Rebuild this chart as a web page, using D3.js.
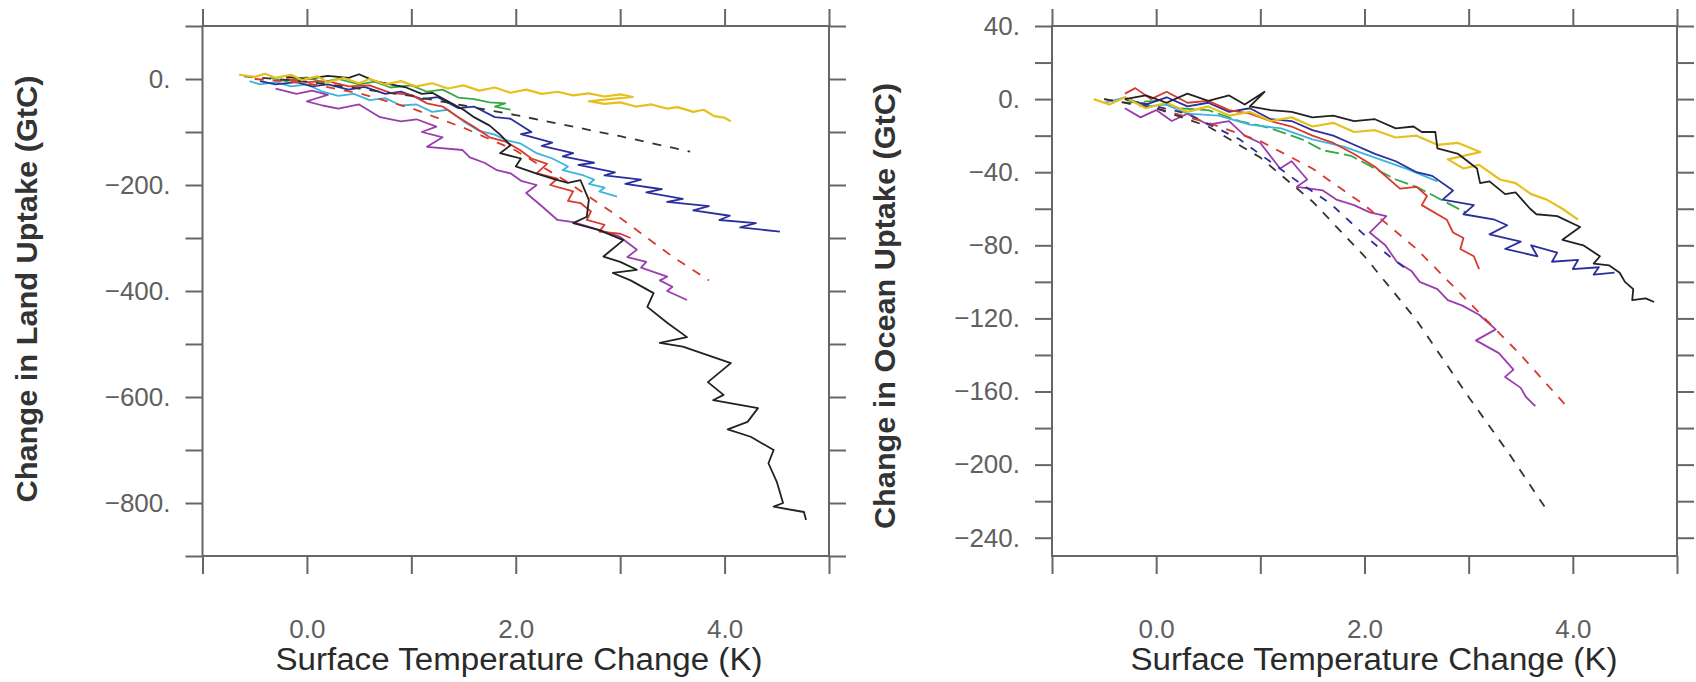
<!DOCTYPE html>
<html><head><meta charset="utf-8">
<script src="https://cdn.jsdelivr.net/npm/d3@7"></script>
<style>body{margin:0;background:#fff}svg{display:block}</style>
</head><body>
<svg id="c" width="1696" height="682"></svg>
<script>
// ---------- data ----------
const xTicks = [-1, 0, 1, 2, 3, 4, 5];
const xLabels = [0, 2, 4];
const landTicks = [100, 0, -100, -200, -300, -400, -500, -600, -700, -800, -900];
const landLabels = [0, -200, -400, -600, -800];
const oceanTicks = [40, 20, 0, -20, -40, -60, -80, -100, -120, -140, -160, -180, -200, -220, -240];
const oceanLabels = [40, 0, -40, -80, -120, -160, -200, -240];

const landYellow = [[-0.65,8],[-0.5,4],[-0.4,10],[-0.3,2],[-0.15,8],[-0.05,-2],[0.1,5],[0.2,-6],[0.35,2],[0.5,-8],[0.6,0],[0.75,-10],[0.9,-4],[1.05,-14],[1.2,-8],[1.35,-18],[1.5,-12],[1.65,-22],[1.8,-16],[1.95,-26],[2.1,-20],[2.25,-28],[2.4,-24],[2.55,-31],[2.7,-27],[2.85,-33],[3.0,-29],[3.12,-34],[2.9,-38],[2.7,-42],[2.85,-47],[3.0,-44],[3.15,-52],[3.3,-48],[3.45,-56],[3.55,-53],[3.7,-62],[3.8,-58],[3.9,-70],[4.0,-73],[4.06,-80]];
const landGreen = [[-0.35,2],[-0.2,-4],[0,3],[0.15,-6],[0.3,0],[0.5,-10],[0.65,-5],[0.8,-16],[1.0,-12],[1.15,-24],[1.3,-20],[1.45,-35],[1.6,-38],[1.75,-44],[1.9,-46],[1.8,-52],[1.95,-58]];
const landCyan = [[-0.55,-4],[-0.45,-10],[-0.3,-6],[-0.15,-14],[0,-10],[0.15,-24],[0.3,-32],[0.45,-28],[0.6,-40],[0.75,-36],[0.9,-50],[1.05,-48],[1.2,-62],[1.35,-58],[1.5,-80],[1.65,-98],[1.8,-105],[1.9,-115],[2.05,-122],[2.2,-140],[2.35,-150],[2.5,-165],[2.45,-172],[2.65,-182],[2.75,-190],[2.7,-198],[2.85,-205],[2.8,-212],[2.97,-222]];
const landBlue = [[-0.45,-4],[-0.3,-10],[-0.1,-6],[0.05,-14],[0.2,-10],[0.4,-20],[0.55,-15],[0.75,-28],[0.9,-24],[1.1,-38],[1.25,-34],[1.45,-55],[1.6,-52],[1.8,-72],[1.95,-75],[2.15,-100],[2.05,-104],[2.35,-120],[2.25,-126],[2.55,-140],[2.45,-146],[2.75,-158],[2.6,-162],[2.95,-176],[2.85,-182],[3.2,-190],[3.05,-198],[3.4,-208],[3.25,-214],[3.6,-226],[3.45,-232],[3.85,-240],[3.7,-248],[4.05,-258],[3.95,-266],[4.3,-272],[4.15,-280],[4.53,-288]];
const landPurple = [[-0.3,-18],[-0.1,-28],[0.05,-22],[0.2,-30],[0.0,-42],[0.15,-50],[0.3,-56],[0.5,-48],[0.7,-72],[0.9,-80],[1.05,-76],[1.24,-90],[1.1,-100],[1.3,-110],[1.15,-128],[1.49,-134],[1.56,-148],[1.7,-158],[1.82,-172],[1.95,-178],[2.05,-192],[2.2,-200],[2.1,-215],[2.25,-240],[2.4,-266],[2.55,-270],[2.7,-279],[2.88,-290],[3.0,-298],[3.16,-322],[3.07,-336],[3.25,-345],[3.2,-356],[3.45,-373],[3.38,-380],[3.5,-392],[3.45,-400],[3.64,-417]];
const landRed = [[-0.2,0],[0,-6],[0.2,-4],[0.4,-14],[0.6,-12],[0.8,-26],[1.0,-30],[1.15,-46],[1.3,-52],[1.45,-72],[1.6,-90],[1.75,-110],[1.9,-118],[2.04,-134],[2.15,-150],[2.3,-160],[2.2,-178],[2.4,-188],[2.33,-200],[2.55,-212],[2.5,-230],[2.62,-234],[2.72,-250],[2.68,-266],[2.85,-275],[2.8,-288],[3.0,-292],[3.1,-300]];
const landBlack = [[-0.2,4],[0,0],[0.2,6],[0.4,2],[0.5,9],[0.65,-4],[0.8,-10],[0.95,-16],[1.1,-28],[1.2,-26],[1.35,-42],[1.5,-58],[1.6,-72],[1.75,-88],[1.85,-105],[1.95,-125],[1.85,-140],[2.05,-150],[2.0,-165],[2.18,-177],[2.35,-188],[2.5,-196],[2.62,-191],[2.7,-228],[2.68,-260],[2.55,-272],[2.8,-285],[3.03,-304],[2.84,-335],[3.0,-345],[3.16,-360],[2.93,-366],[3.1,-380],[3.32,-404],[3.26,-430],[3.45,-460],[3.64,-487],[3.38,-498],[3.6,-505],[4.06,-536],[3.84,-572],[3.99,-596],[3.89,-606],[4.32,-621],[4.22,-647],[4.03,-661],[4.25,-675],[4.47,-700],[4.42,-725],[4.5,-760],[4.56,-800],[4.47,-807],[4.76,-817],[4.78,-832]];
const landDashBlack = [[-0.6,5],[0,-5],[0.5,-18],[1,-32],[1.5,-50],[2,-68],[2.5,-88],[3,-108],[3.67,-137]];
const landDashRed = [[-0.5,0],[0,-8],[0.5,-27],[1,-55],[1.5,-92],[2,-135],[2.5,-195],[3,-262],[3.5,-335],[3.85,-380]];

const oceanYellow = [[-0.6,0],[-0.45,-3],[-0.3,1],[-0.1,-5],[0.1,-2],[0.3,-7],[0.5,-4],[0.7,-9],[0.9,-7],[1.1,-12],[1.3,-10],[1.5,-15],[1.7,-13],[1.9,-18],[2.1,-17],[2.3,-21],[2.5,-20],[2.7,-25],[2.9,-24],[3.11,-29],[2.8,-33],[2.95,-38],[3.1,-36],[3.3,-44],[3.45,-46],[3.6,-52],[3.75,-55],[3.9,-60],[4.05,-66]];
const oceanGreen = [[-0.3,-2],[0,-1],[0.2,-5],[0.5,-6],[0.8,-12],[1.1,-16],[1.4,-22],[1.6,-28],[1.87,-31],[2.1,-38],[2.3,-44],[2.5,-48],[2.7,-54],[2.97,-62]];
const oceanCyan = [[-0.5,-2],[-0.3,1],[-0.1,-4],[0.1,-3],[0.3,-8],[0.6,-9],[0.9,-14],[1.2,-16],[1.5,-22],[1.8,-26],[2.1,-32],[2.4,-38],[2.7,-45]];
const oceanBlue = [[-0.3,0],[-0.1,-3],[0.1,1],[0.3,-4],[0.5,-2],[0.7,-7],[0.9,-5],[1.1,-11],[1.3,-12],[1.5,-17],[1.7,-20],[1.9,-25],[2.1,-30],[2.3,-34],[2.5,-40],[2.65,-42],[2.85,-50],[2.75,-55],[3.05,-58],[2.95,-63],[3.25,-66],[3.37,-69],[3.2,-74],[3.5,-78],[3.35,-82],[3.66,-86],[3.6,-80],[3.85,-84],[3.8,-89],[4.05,-88],[4.0,-93],[4.25,-92],[4.2,-96],[4.4,-95]];
const oceanPurple = [[-0.3,-5],[-0.15,-10],[0,-6],[0.15,-12],[0.3,-8],[0.5,-14],[0.7,-12],[0.85,-20],[1.0,-24],[1.19,-38],[1.3,-34],[1.45,-44],[1.35,-48],[1.6,-50],[1.73,-55],[1.9,-58],[2.05,-62],[2.21,-64],[2.05,-73],[2.2,-80],[2.31,-89],[2.45,-94],[2.53,-100],[2.7,-104],[2.8,-110],[2.94,-113],[3.1,-118],[3.26,-126],[3.07,-132],[3.29,-139],[3.43,-148],[3.35,-152],[3.5,-158],[3.55,-163],[3.64,-168]];
const oceanRed = [[-0.3,3],[-0.2,6],[-0.05,0],[0.1,4],[0.3,-2],[0.5,-1],[0.7,-6],[0.9,-8],[1.1,-12],[1.3,-15],[1.5,-20],[1.7,-24],[1.9,-30],[2.1,-37],[2.34,-49],[2.5,-48],[2.6,-53],[2.55,-58],[2.79,-66],[2.85,-73],[2.95,-76],[2.92,-82],[3.05,-86],[3.1,-93]];
const oceanBlack = [[-0.3,0],[-0.1,2],[0.1,-2],[0.3,3],[0.5,-1],[0.7,2],[0.85,-3],[1.04,4],[0.9,-4],[1.1,-6],[1.3,-7],[1.5,-10],[1.7,-9],[1.9,-12],[2.1,-11],[2.3,-16],[2.47,-15],[2.55,-18],[2.68,-18],[2.7,-27],[2.9,-30],[3.08,-38],[3.11,-46],[3.2,-45],[3.35,-52],[3.45,-51],[3.59,-60],[3.65,-63],[3.85,-64],[4.07,-70],[3.9,-77],[4.1,-80],[4.26,-86],[4.2,-90],[4.35,-91],[4.45,-95],[4.5,-100],[4.58,-104],[4.57,-110],[4.7,-109],[4.78,-111]];
const oceanDashBlack = [[-0.5,0],[0,-5],[0.5,-15],[1,-32],[1.5,-56],[2,-86],[2.5,-121],[3,-163],[3.4,-195],[3.74,-224]];
const oceanDashRed = [[-0.5,0],[0,-5],[0.5,-13],[1,-23],[1.5,-38],[2,-58],[2.5,-82],[3,-111],[3.5,-140],[3.97,-170]];
const oceanDashBlue = [[-0.3,0],[0.3,-8],[0.8,-22],[1.38,-46],[1.67,-57],[2.05,-77],[2.24,-86],[2.4,-93]];

// ---------- styles ----------
const C = {yellow:"#e6c01c", green:"#35a845", cyan:"#3cb4dd", blue:"#2b2f9c", purple:"#9a3dad", red:"#d83a2c", black:"#222"};
const FONT = "'Liberation Sans', Arial, sans-serif";

const svg = d3.select("#c");
const fmtY = d => d === 0 ? "0." : (d < 0 ? "\u2212" + Math.abs(d) + "." : d + ".");

function panel(cfg) {
  const x = d3.scaleLinear().domain([-1, 5]).range([cfg.x0, cfg.x1]);
  const y = d3.scaleLinear().domain(cfg.yDomain).range([556, 26]);
  const g = svg.append("g");
  const tickStyle = sel => {
    sel.select(".domain").remove();
    sel.selectAll(".tick line").attr("stroke", "#666").attr("stroke-width", 2);
    sel.selectAll(".tick text").attr("fill", "#606060").style("font-family", FONT).style("font-size", "26px");
  };
  g.append("g").attr("transform", `translate(0,26)`).call(d3.axisTop(x).tickValues(xTicks).tickSize(17).tickFormat("")).call(tickStyle);
  g.append("g").attr("transform", `translate(0,556)`).call(d3.axisBottom(x).tickValues(xTicks).tickSize(18).tickPadding(46)
     .tickFormat(d => xLabels.includes(d) ? d.toFixed(1) : "")).call(tickStyle);
  g.append("g").attr("transform", `translate(${cfg.x0},0)`).call(d3.axisLeft(y).tickValues(cfg.ticks).tickSize(17).tickPadding(15)
     .tickFormat(d => cfg.labels.includes(d) ? fmtY(d) : "")).call(tickStyle);
  g.append("g").attr("transform", `translate(${cfg.x1},0)`).call(d3.axisRight(y).tickValues(cfg.ticks).tickSize(17).tickFormat("")).call(tickStyle);
  g.append("rect").attr("x", cfg.x0).attr("y", 26).attr("width", cfg.x1 - cfg.x0).attr("height", 530)
    .attr("fill", "none").attr("stroke", "#666").attr("stroke-width", 2);

  const line = d3.line().x(d => x(d[0])).y(d => y(d[1]));
  cfg.series.forEach(s => {
    g.append("path").datum(s.data).attr("d", line).attr("fill", "none")
      .attr("stroke", s.color).attr("stroke-width", s.w || 1.8)
      .attr("stroke-linejoin", "round")
      .attr("stroke-dasharray", s.dash || null);
  });

  g.append("text").attr("transform", `translate(${cfg.titleX},${cfg.titleY}) rotate(-90)`).attr("text-anchor", "middle")
    .style("font-family", FONT).style("font-size", "29px").style("font-weight", "bold")
    .attr("textLength", cfg.titleLen).attr("lengthAdjust", "spacingAndGlyphs")
    .attr("fill", "#333").text(cfg.yTitle);
  g.append("text").attr("x", cfg.xTitleX).attr("y", 670).attr("text-anchor", "middle")
    .style("font-family", FONT).style("font-size", "31px")
    .attr("textLength", 487).attr("lengthAdjust", "spacingAndGlyphs")
    .attr("fill", "#2a2a2a").text("Surface Temperature Change (K)");
}

panel({
  x0: 202.5, x1: 829, yDomain: [-900, 100], ticks: landTicks, labels: landLabels,
  titleX: 37, titleY: 289, titleLen: 427, xTitleX: 519, yTitle: "Change in Land  Uptake (GtC)",
  series: [
    {data: landGreen, color: C.green},
    {data: landCyan, color: C.cyan},
    {data: landBlue, color: C.blue},
    {data: landPurple, color: C.purple},
    {data: landRed, color: C.red},
    {data: landDashRed, color: C.red, dash: "9,9"},
    {data: landDashBlack, color: "#333", dash: "9,9"},
    {data: landBlack, color: C.black},
    {data: landYellow, color: C.yellow, w: 2.2}
  ]
});
panel({
  x0: 1052, x1: 1677, yDomain: [-250, 40], ticks: oceanTicks, labels: oceanLabels,
  titleX: 895, titleY: 306, titleLen: 446, xTitleX: 1374, yTitle: "Change in Ocean Uptake  (GtC)",
  series: [
    {data: oceanGreen, color: C.green, dash: "14,5"},
    {data: oceanCyan, color: C.cyan},
    {data: oceanBlue, color: C.blue},
    {data: oceanPurple, color: C.purple},
    {data: oceanRed, color: C.red},
    {data: oceanDashBlue, color: C.blue, dash: "8,9"},
    {data: oceanDashRed, color: C.red, dash: "9,9"},
    {data: oceanDashBlack, color: "#333", dash: "9,9"},
    {data: oceanYellow, color: C.yellow, w: 2.2},
    {data: oceanBlack, color: C.black}
  ]
});
</script>
</body></html>
